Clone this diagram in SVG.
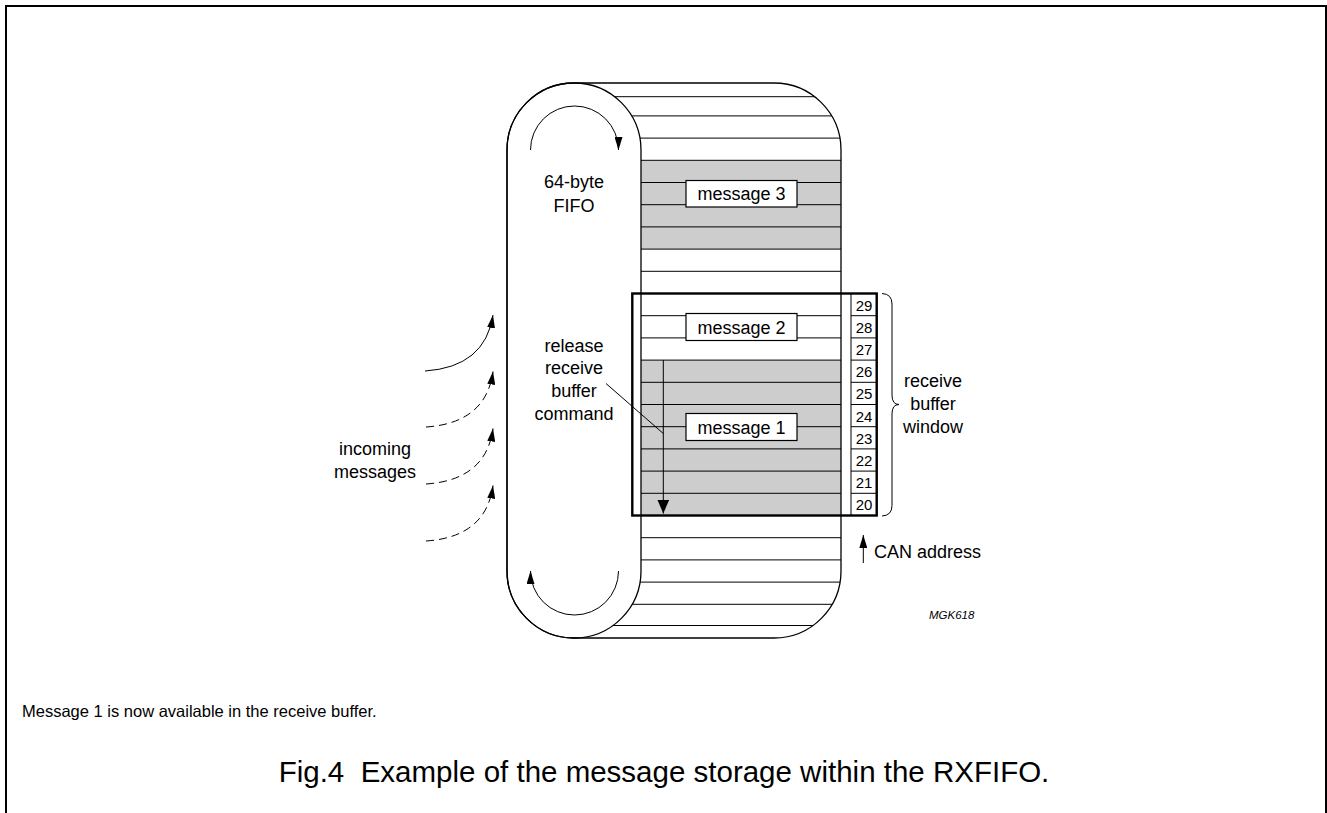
<svg xmlns="http://www.w3.org/2000/svg" width="1327" height="813" viewBox="0 0 1327 813">
<style>
text{font-family:"Liberation Sans",Arial,Helvetica,sans-serif;fill:#000}
.lbl{font-size:18px}
.mid{text-anchor:middle}
.num{font-size:15px;text-anchor:middle}
.thin{fill:none;stroke:#000;stroke-width:1}
.shape{fill:#fff;stroke:#000;stroke-width:1.3}
.row{stroke:#000;stroke-width:1}
.gray{fill:#cdcdcd}
.box{fill:#fff;stroke:#000;stroke-width:1.2}
.dash{stroke-dasharray:8,5}
</style>
<defs>
<clipPath id="outerClip"><rect x="507" y="83" width="334" height="555" rx="67" ry="67"/></clipPath>
<marker id="ah" markerUnits="userSpaceOnUse" viewBox="0 0 13 8" refX="13" refY="4" markerWidth="13" markerHeight="8" orient="auto"><path d="M0,0 L13,4 L0,8 Z" fill="#000"/></marker>
<marker id="ahBig" markerUnits="userSpaceOnUse" viewBox="0 0 14 12" refX="14" refY="6" markerWidth="14" markerHeight="12" orient="auto"><path d="M0,0 L14,6 L0,12 Z" fill="#000"/></marker>
</defs>
<rect width="1327" height="813" fill="#fff"/>
<path d="M6,813 V6 H1326 V813" fill="none" stroke="#000" stroke-width="2"/>

<g id="fifo">
<rect x="507" y="83" width="334" height="555" rx="67" ry="67" fill="#fff"/>
<rect class="gray" x="641" y="160.3" width="200" height="88.8"/>
<rect class="gray" x="641" y="360.1" width="200" height="155.4"/>
<g clip-path="url(#outerClip)">
<path class="row" d="M507,96.7H841 M507,115.9H841 M507,138.1H841 M507,160.3H841 M507,182.5H841 M507,204.7H841 M507,226.9H841 M507,249.1H841 M507,271.3H841 M507,293.5H841 M507,315.7H841 M507,337.9H841 M507,360.1H841 M507,382.3H841 M507,404.5H841 M507,426.7H841 M507,448.9H841 M507,471.1H841 M507,493.3H841 M507,515.5H841 M507,537.7H841 M507,559.9H841 M507,582.1H841 M507,604.3H841 M507,625.5H841"/>
</g>
<rect class="shape" x="507" y="83" width="134" height="555" rx="67" ry="67"/>
<rect x="507" y="83" width="334" height="555" rx="67" ry="67" fill="none" stroke="#000" stroke-width="1.3"/>
</g>

<g id="label-fifo">
<text class="lbl mid" x="574" y="188">64-byte</text>
<text class="lbl mid" x="574" y="211.5">FIFO</text>
</g>

<g id="message3">
<rect class="box" x="686" y="180.5" width="111" height="26.5"/>
<text class="lbl mid" x="741.5" y="200">message 3</text>
</g>
<g id="message2">
<rect class="box" x="686" y="313.5" width="111" height="27"/>
<text class="lbl mid" x="741.5" y="333.5">message 2</text>
</g>
<g id="message1">
<rect class="box" x="686" y="413.5" width="111" height="27"/>
<text class="lbl mid" x="741.5" y="433.5">message 1</text>
</g>

<g id="addresses">
<rect x="851" y="293.5" width="25.7" height="222" fill="#fff" stroke="#000" stroke-width="1"/>
<path class="row" d="M851,315.7H876.7 M851,337.9H876.7 M851,360.1H876.7 M851,382.3H876.7 M851,404.5H876.7 M851,426.7H876.7 M851,448.9H876.7 M851,471.1H876.7 M851,493.3H876.7"/>
<text class="num" x="864" y="310.5">29</text>
<text class="num" x="864" y="332.7">28</text>
<text class="num" x="864" y="354.9">27</text>
<text class="num" x="864" y="377.1">26</text>
<text class="num" x="864" y="399.3">25</text>
<text class="num" x="864" y="421.5">24</text>
<text class="num" x="864" y="443.7">23</text>
<text class="num" x="864" y="465.9">22</text>
<text class="num" x="864" y="488.1">21</text>
<text class="num" x="864" y="510.3">20</text>
</g>

<g id="window">
<rect x="632.3" y="293.5" width="244.4" height="222" fill="none" stroke="#000" stroke-width="2.4"/>
</g>

<g id="connectors">
<path class="thin" d="M530.5,150 A44,44 0 0 1 618.5,150" marker-end="url(#ah)"/>
<path class="thin" d="M618.5,571 A44,44 0 0 1 530.5,571" marker-end="url(#ah)"/>
<path class="thin" d="M425,371 Q485,367 493,315" marker-end="url(#ah)"/>
<path class="thin dash" d="M426,427 Q486,423 493,371.5" marker-end="url(#ah)"/>
<path class="thin dash" d="M426,484 Q486,480 493,428.5" marker-end="url(#ah)"/>
<path class="thin dash" d="M426,541 Q486,537 493,485.5" marker-end="url(#ah)"/>
<path class="thin" d="M663.3,360 V513.5" stroke-width="1.3" marker-end="url(#ahBig)"/>
<path class="thin" d="M606,383.5 L663.3,433.5"/>
<path class="thin" d="M863.3,563 V535" marker-end="url(#ah)"/>
<path class="thin" d="M882,293.5 Q892,294 892,304 L892,395 Q892,404.5 899,404.5 Q892,404.5 892,414 L892,505.5 Q892,515.5 882,516"/>
</g>

<g id="label-release">
<text class="lbl mid" x="574" y="351.5">release</text>
<text class="lbl mid" x="574" y="374">receive</text>
<text class="lbl mid" x="574" y="396.5">buffer</text>
<text class="lbl mid" x="574" y="419.5">command</text>
</g>
<g id="label-incoming">
<text class="lbl mid" x="375" y="455">incoming</text>
<text class="lbl mid" x="375" y="478">messages</text>
</g>
<g id="label-window">
<text class="lbl mid" x="933" y="387">receive</text>
<text class="lbl mid" x="933" y="410">buffer</text>
<text class="lbl mid" x="933" y="432.5">window</text>
</g>
<g id="label-can">
<text class="lbl" x="874" y="558">CAN address</text>
</g>
<text x="929" y="619" font-size="11.5" font-style="italic">MGK618</text>
<text x="22" y="717" font-size="16.5">Message 1 is now available in the receive buffer.</text>
<text x="664" y="782" font-size="29.5" text-anchor="middle">Fig.4&#160; Example of the message storage within the RXFIFO.</text>
</svg>
